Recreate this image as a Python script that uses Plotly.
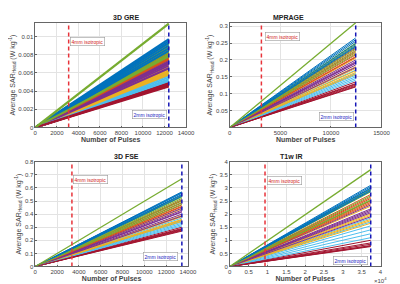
import plotly.graph_objects as go
from plotly.subplots import make_subplots

titles = ["3D GRE", "MPRAGE", "3D FSE", "T1w IR"]
pulses_4mm = [3100, 3125, 3360, 9350]
pulses_2mm = [12400, 12450, 13440, 37400]

gre_end = [0.0097, 0.0088, 0.0076, 0.0072, 0.0092, 0.0061, 0.0049,
           0.0095, 0.0085, 0.0066, 0.0070, 0.0089, 0.0059, 0.0046,
           0.0093, 0.0082, 0.0064, 0.0068, 0.0086, 0.0057, 0.0047,
           0.0090, 0.0079, 0.0062, 0.0074, 0.0083, 0.0055, 0.0050,
           0.0087, 0.0077, 0.0060, 0.0071, 0.0080, 0.0053, 0.0045,
           0.0084, 0.0075, 0.0058, 0.0065, 0.0078, 0.0051, 0.0048]
mprage_end = [0.265, 0.235, 0.205, 0.190, 0.250, 0.170, 0.130,
              0.260, 0.228, 0.180, 0.195, 0.245, 0.160, 0.122,
              0.255, 0.222, 0.175, 0.185, 0.240, 0.155, 0.128,
              0.248, 0.215, 0.168, 0.200, 0.232, 0.150, 0.135,
              0.242, 0.210, 0.163, 0.192, 0.225, 0.145, 0.120,
              0.238, 0.208, 0.158, 0.178, 0.218, 0.140, 0.125]
fse_end = [0.57, 0.51, 0.44, 0.42, 0.54, 0.37, 0.29,
           0.565, 0.50, 0.39, 0.43, 0.53, 0.35, 0.27,
           0.56, 0.485, 0.38, 0.40, 0.52, 0.34, 0.28,
           0.55, 0.47, 0.36, 0.445, 0.505, 0.33, 0.30,
           0.545, 0.46, 0.355, 0.415, 0.49, 0.32, 0.275,
           0.535, 0.455, 0.345, 0.385, 0.475, 0.31, 0.285]
t1w_end = [3.10, 2.75, 2.30, 2.15, 2.95, 1.85, 0.85,
           3.05, 2.65, 2.00, 2.20, 2.90, 1.70, 0.76,
           3.00, 2.60, 1.95, 2.05, 2.85, 1.55, 0.80,
           2.98, 2.50, 1.80, 2.35, 2.70, 1.40, 1.00,
           2.92, 2.45, 1.75, 2.10, 2.55, 1.25, 0.78,
           2.88, 2.40, 1.65, 1.90, 2.52, 1.10, 0.90]
worst_end = [0.0114, 0.31, 0.67, 3.70]

series = [gre_end, mprage_end, fse_end, t1w_end]

y_ranges = [[0, 0.0115], [0, 0.31], [0, 0.8], [0, 4]]
y_ticks = [[0, 0.002, 0.004, 0.006, 0.008, 0.01],
           [0.05, 0.1, 0.15, 0.2, 0.25, 0.3],
           [0, 0.1, 0.2, 0.3, 0.4, 0.5, 0.6, 0.7, 0.8],
           [0, 0.5, 1, 1.5, 2, 2.5, 3, 3.5, 4]]
y_ticktext = [["0", "0.002", "0.004", "0.006", "0.008", "0.01"],
              ["0.05", "0.1", "0.15", "0.2", "0.25", "0.3"],
              ["0", "0.1", "0.2", "0.3", "0.4", "0.5", "0.6", "0.7", "0.8"],
              ["0", "0.5", "1", "1.5", "2", "2.5", "3", "3.5", "4"]]
x_ranges = [[0, 14000], [0, 15000], [0, 14000], [0, 40000]]
x_ticks = [[0, 2000, 4000, 6000, 8000, 10000, 12000, 14000],
           [0, 5000, 10000, 15000],
           [0, 2000, 4000, 6000, 8000, 10000, 12000, 14000],
           [0, 5000, 10000, 15000, 20000, 25000, 30000, 35000, 40000]]
x_ticktext = [[str(v) for v in x_ticks[0]],
              [str(v) for v in x_ticks[1]],
              [str(v) for v in x_ticks[2]],
              ["0", "0.5", "1", "1.5", "2", "2.5", "3", "3.5", "4"]]

# label positions (data coords)
lab4_pos = [(3250, 0.00946), (3460, 0.269), (3480, 0.665), (9800, 3.29)]
lab2_pos = [(12250, 0.00145), (12250, 0.032), (13100, 0.075), (36600, 0.22)]

colors = ['#0072BD', '#D95319', '#EDB120', '#7E2F8E', '#77AC30', '#4DBEEE', '#A2142F']
line_w = [2.0, 1.0, 1.0, 1.0]

fig = make_subplots(rows=2, cols=2)
W, H = 400, 284
doms_x = [[26 / W, 181 / W], [226 / W, 382 / W], [26 / W, 183 / W], [226 / W, 381 / W]]
doms_y = [[1 - 119 / H, 1 - 12 / H], [1 - 119 / H, 1 - 12 / H],
          [1 - 261 / H, 1 - 154 / H], [1 - 261 / H, 1 - 154 / H]]

font = "Liberation Sans, Arial, sans-serif"
for k in range(4):
    r, c = k // 2 + 1, k % 2 + 1
    N = pulses_2mm[k]
    for i, v in enumerate(series[k]):
        fig.add_trace(go.Scatter(x=[0, N], y=[0, v], mode="lines",
                                 line=dict(color=colors[i % 7], width=line_w[k]),
                                 showlegend=False, hoverinfo="skip"), row=r, col=c)
    fig.add_trace(go.Scatter(x=[0, N], y=[0, worst_end[k]], mode="lines",
                             line=dict(color='#77AC30', width=line_w[k] + 0.3),
                             showlegend=False, hoverinfo="skip"), row=r, col=c)
    ax = "" if k == 0 else str(k + 1)
    fig.add_trace(go.Scatter(x=[pulses_4mm[k], pulses_4mm[k]], y=y_ranges[k], mode="lines",
                             line=dict(color="#E8333A", width=1.5, dash="4px,3px"),
                             showlegend=False, hoverinfo="skip"), row=r, col=c)
    fig.add_trace(go.Scatter(x=[N, N], y=y_ranges[k], mode="lines",
                             line=dict(color="#1515B5", width=1.5, dash="4px,3px"),
                             showlegend=False, hoverinfo="skip"), row=r, col=c)
    fig.update_xaxes(row=r, col=c, domain=doms_x[k], range=x_ranges[k],
                     tickvals=x_ticks[k], ticktext=x_ticktext[k],
                     showgrid=True, gridcolor="#E3E3E3", gridwidth=0.6,
                     zeroline=False, showline=True, linecolor="#666", linewidth=0.6,
                     mirror=True, ticks="inside", ticklen=2, tickcolor="#666",
                     tickfont=dict(size=6, color="#444", family=font),
                     title=dict(text="<b>Number of Pulses</b>", standoff=1,
                                font=dict(size=7, color="#444", family=font)))
    fig.update_yaxes(row=r, col=c, domain=doms_y[k], range=y_ranges[k],
                     tickvals=y_ticks[k], ticktext=y_ticktext[k],
                     showgrid=True, gridcolor="#E3E3E3", gridwidth=0.6,
                     zeroline=False, showline=True, linecolor="#666", linewidth=0.6,
                     mirror=True, ticks="inside", ticklen=2, tickcolor="#666",
                     tickfont=dict(size=6, color="#444", family=font),
                     title=dict(text="Average SAR<sub>Head</sub> (W kg<sup>-1</sup>)", standoff=2,
                                font=dict(size=7, color="#444", family=font)))
    xd, yd = doms_x[k], doms_y[k]
    fig.add_annotation(x=(xd[0] + xd[1]) / 2, y=yd[1], xref="paper", yref="paper",
                       text="<b>" + titles[k] + "</b>", showarrow=False, yanchor="bottom",
                       font=dict(size=7, color="#222", family=font))
    fig.add_annotation(x=lab4_pos[k][0], y=lab4_pos[k][1], xref="x" + ax, yref="y" + ax,
                       text="4mm isotropic", showarrow=False, xanchor="left",
                       bgcolor="white", bordercolor="#999", borderwidth=0.6, borderpad=1,
                       font=dict(size=5, color="#D02020", family=font))
    fig.add_annotation(x=lab2_pos[k][0], y=lab2_pos[k][1], xref="x" + ax, yref="y" + ax,
                       text="2mm isotropic", showarrow=False, xanchor="right",
                       bgcolor="white", bordercolor="#999", borderwidth=0.6, borderpad=1,
                       font=dict(size=5, color="#2020C0", family=font))

fig.add_annotation(x=doms_x[3][1], y=doms_y[3][0], xref="paper", yref="paper",
                   text="\u00d710<sup>4</sup>", showarrow=False, xanchor="center", yanchor="top",
                   yshift=-8, font=dict(size=6, color="#444", family=font))

fig.update_layout(width=W, height=H, margin=dict(l=0, r=0, t=0, b=0),
                  paper_bgcolor="white", plot_bgcolor="white")
fig.write_html("out.html")
